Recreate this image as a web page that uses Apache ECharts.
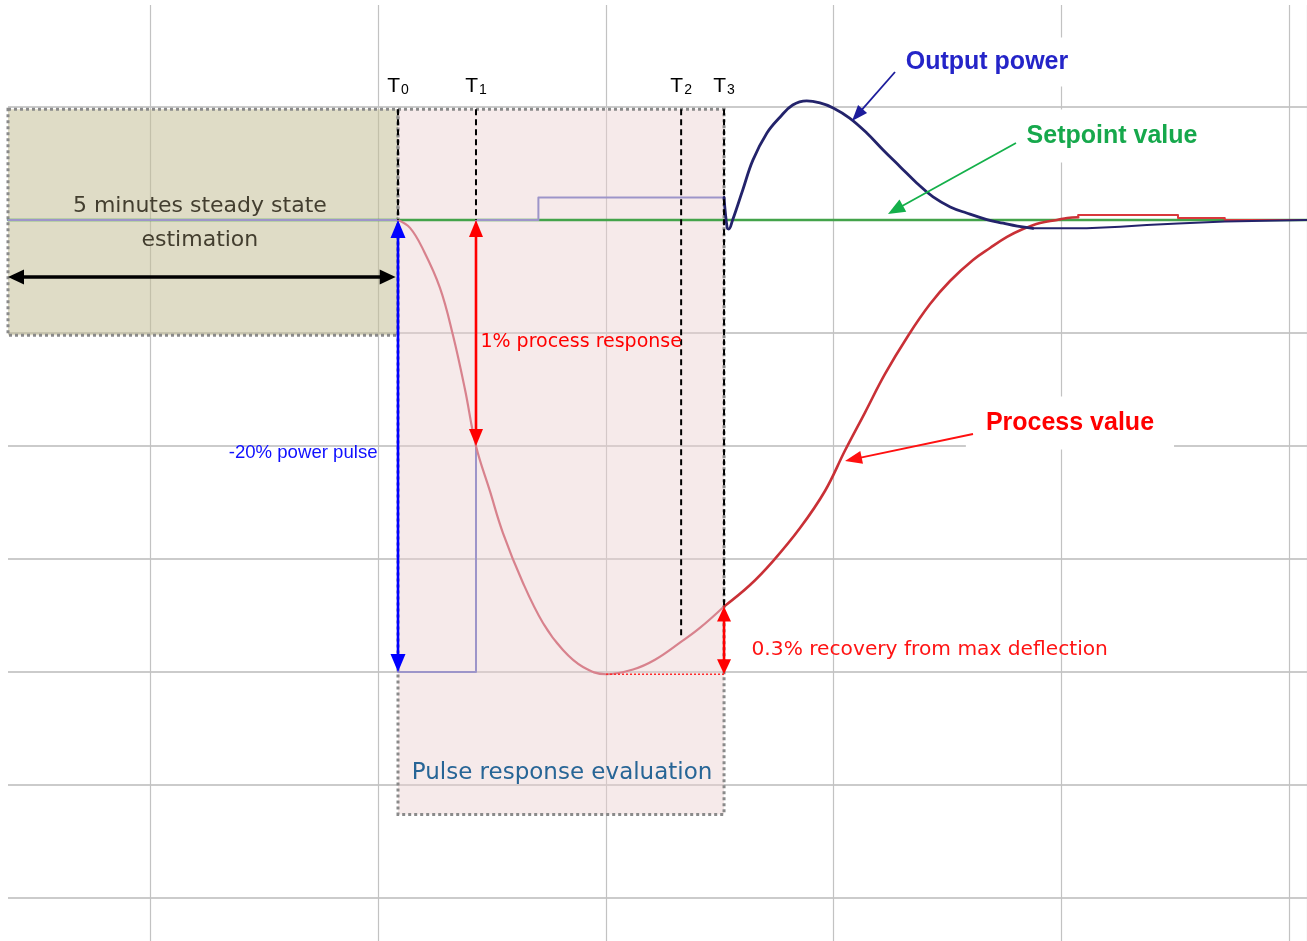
<!DOCTYPE html>
<html>
<head>
<meta charset="utf-8">
<title>Pulse response evaluation</title>
<script src="https://cdn.jsdelivr.net/npm/echarts@6/dist/echarts.min.js"></script>
<style>
  html, body { margin: 0; padding: 0; background: #ffffff; }
  #chart { width: 1307px; height: 941px; }
</style>
</head>
<body>
<div id="chart"></div>
<script>
// Time axis: minutes relative to the start of the power pulse (T0).
// Process axis: deviation of the process value from setpoint, in %.
// Power axis: change of output power, in %.

// Event markers T0..T3
const markTimes = [0, 1.0, 3.63, 4.18];
const markSubs = ['0', '1', '2', '3'];
const markEnds = [0, 0, -1.84, -1.71];
const windowTop = 0.49;

// Shaded windows: [tStart, top, tEnd, bottom]
const steadyWindow = [-5, windowTop, 0, -0.51];
const pulseWindow = [0, windowTop, 4.18, -2.63];

// Setpoint (process %)
const setpoint = [[-5, 0], [11.654, 0]];

// Output power (power %)
const powerPulse = [[-5, 0], [0, 0], [0, -20], [1.0, -20], [1.0, 0], [1.8, 0], [1.8, 1], [4.18, 1]];
const powerRecovery = [
  [4.18, 1], [4.22, -0.35], [4.24, -0.4], [4.29, 0], [4.42, 1.33], [4.55, 2.65], [4.73, 3.85],
  [4.90, 4.56], [5.06, 5.09], [5.24, 5.27], [5.41, 5.18], [5.58, 4.96], [5.79, 4.51], [6.01, 3.85],
  [6.22, 3.10], [6.44, 2.35], [6.65, 1.64], [6.86, 1.02], [7.08, 0.58], [7.29, 0.31], [7.55, 0.02],
  [7.76, -0.14], [7.94, -0.27], [8.14, -0.37]
];
const powerSettle = [
  [8.14, -0.37], [8.83, -0.37], [8.83, -0.30], [9.26, -0.30], [9.26, -0.22], [9.60, -0.22],
  [9.60, -0.15], [10.0, -0.15], [10.0, -0.07], [10.6, -0.07], [10.6, 0], [11.654, 0]
];

// Process value (process %)
const processFall = [
  [0, 0], [0.154, -0.035], [0.321, -0.13], [0.538, -0.3], [0.705, -0.51], [0.859, -0.75],
  [1.0, -1.0], [1.179, -1.2], [1.346, -1.385], [1.603, -1.606], [1.859, -1.783], [2.115, -1.903],
  [2.372, -1.978], [2.667, -2.01], [3.013, -1.989], [3.295, -1.946], [3.628, -1.867], [3.87, -1.805],
  [4.18, -1.71]
];
const processRise = [
  [4.18, -1.71], [4.513, -1.615], [4.808, -1.509], [5.154, -1.363], [5.474, -1.199], [5.731, -1.02],
  [5.987, -0.852], [6.244, -0.681], [6.538, -0.513], [6.821, -0.372], [7.077, -0.27], [7.372, -0.177],
  [7.59, -0.124], [7.808, -0.075], [8.013, -0.04], [8.231, -0.013], [8.449, 0], [8.58, 0.009],
  [8.72, 0.012]
];
const processSettle = [
  [8.72, 0.012], [8.72, 0.022], [10.0, 0.022], [10.0, 0.009], [10.6, 0.009], [10.6, 0], [11.654, 0]
];

// Measurement arrows: [t1, v1, t2, v2]
const pulseArrow = [[0, 0, 0, -20]];                    // power axis
const responseArrow = [[1.0, 0, 1.0, -1.0]];
const recoveryArrow = [[4.18, -2.01, 4.18, -1.71]];
const steadyArrow = [[-5, -0.252, -0.03, -0.252]];
const deflectionLevel = [[2.667, -2.01], [4.18, -2.01]];

// Legend pointers: [from t, from v, to t, to v]
const outputPointer = [[6.372, 0.655, 5.821, 0.438]];
const setpointPointer = [[7.923, 0.341, 6.282, 0.027]];
const processPointer = [[7.372, -0.947, 5.731, -1.066]];

// Text anchors
const steadyText = { text: '5 minutes steady state\nestimation', at: [-2.54, -0.013] };
const responseText = { text: '1% process response', at: [1.05, -0.54] };
const pulseText = { text: '-20% power pulse', at: [-0.256, -1.031] };
const windowText = { text: 'Pulse response evaluation', at: [2.103, -2.447] };
const recoveryText = { text: '0.3% recovery from max deflection', at: [4.526, -1.903] };
const outputText = { text: 'Output power', at: [7.551, 0.699] };
const setpointText = { text: 'Setpoint value', at: [9.154, 0.372] };
const processText = { text: 'Process value', at: [8.615, -0.898] };
const markLabelLevel = 0.597;

const chart = echarts.init(document.getElementById('chart'));

const hiddenAxis = {
  axisLine: { show: false }, axisTick: { show: false }, axisLabel: { show: false }, splitLine: { show: false }
};

function boxSeries(name, rect, fill) {
  return {
    type: 'custom', name, xAxisIndex: 1, yAxisIndex: 1, z: 1, silent: true,
    data: [rect], encode: { x: [0, 2], y: [1, 3] },
    renderItem(params, api) {
      const a = api.coord([api.value(0), api.value(1)]);
      const b = api.coord([api.value(2), api.value(3)]);
      return {
        type: 'rect',
        shape: { x: Math.min(a[0], b[0]), y: Math.min(a[1], b[1]), width: Math.abs(b[0] - a[0]), height: Math.abs(b[1] - a[1]) },
        style: { fill, stroke: '#8a8a8a', lineWidth: 3, lineDash: [3, 3] }
      };
    }
  };
}

function arrowSeries(name, segs, o) {
  return {
    type: 'custom', name, xAxisIndex: 1, yAxisIndex: o.yAxis == null ? 1 : o.yAxis, z: o.z || 7, silent: true,
    data: segs, encode: { x: [0, 2], y: [1, 3] },
    renderItem(params, api) {
      const p = api.coord([api.value(0), api.value(1)]);
      const q = api.coord([api.value(2), api.value(3)]);
      const dx = q[0] - p[0], dy = q[1] - p[1];
      const len = Math.hypot(dx, dy) || 1;
      const ux = dx / len, uy = dy / len;
      const L = o.head[0], W = o.head[1];
      const head = (tip, vx, vy) => {
        const bx = tip[0] - vx * L, by = tip[1] - vy * L;
        return {
          type: 'polygon',
          shape: { points: [tip, [bx - vy * W / 2, by + vx * W / 2], [bx + vy * W / 2, by - vx * W / 2]] },
          style: { fill: o.color }
        };
      };
      const children = [];
      let s = p;
      if (o.both) {
        s = [p[0] + ux * L * 0.8, p[1] + uy * L * 0.8];
        children.push(head(p, -ux, -uy));
      }
      const e = [q[0] - ux * L * 0.8, q[1] - uy * L * 0.8];
      children.push(head(q, ux, uy));
      children.unshift({
        type: 'line', shape: { x1: s[0], y1: s[1], x2: e[0], y2: e[1] },
        style: { stroke: o.color, lineWidth: o.width }
      });
      return { type: 'group', children };
    }
  };
}

function curve(name, data, color, width, yAxis, z, smooth) {
  return {
    type: 'line', name, data, xAxisIndex: 1, yAxisIndex: yAxis, z,
    symbol: 'none', showSymbol: false, silent: true,
    smooth: smooth ? 0.4 : false,
    lineStyle: { color, width, cap: 'round', join: 'round' }
  };
}

function textSeries(name, item, label, z) {
  return {
    type: 'scatter', name, xAxisIndex: 1, yAxisIndex: 1, z: z || 8, silent: true,
    symbolSize: 1, itemStyle: { color: 'rgba(0,0,0,0)', opacity: 1 },
    data: [{ value: item.at, name: item.text }],
    label: Object.assign({ show: true, position: 'inside', distance: 0, formatter: p => p.name }, label)
  };
}

const series = [
  boxSeries('steady window', steadyWindow, 'rgba(196,192,152,0.55)'),
  boxSeries('pulse window', pulseWindow, 'rgba(236,208,208,0.45)'),

  curve('Setpoint value', setpoint, '#43a34a', 2.5, 1, 3, false),
  curve('Output power (pulse)', powerPulse, '#9d95c9', 2, 2, 4, false),
  curve('Output power', powerRecovery, '#23236b', 2.8, 2, 5, true),
  curve('Output power (settle)', powerSettle, '#23236b', 2, 2, 5, false),
  curve('Process value (pulse)', processFall, '#d8828d', 2.2, 1, 4, true),
  curve('Process value', processRise, '#c93036', 2.6, 1, 4, true),
  curve('Process value (settle)', processSettle, '#d9383c', 2, 1, 4, false),

  {
    type: 'line', name: 'max deflection', data: deflectionLevel, xAxisIndex: 1, yAxisIndex: 1, z: 6,
    symbol: 'none', silent: true, lineStyle: { color: '#ff2a2a', width: 1.5, type: [2, 2] }
  }
];

markTimes.forEach((t, i) => {
  series.push({
    type: 'line', name: 'T' + markSubs[i], data: [[t, windowTop], [t, markEnds[i]]],
    xAxisIndex: 1, yAxisIndex: 1, z: 6, symbol: 'none', silent: true,
    lineStyle: { color: '#000000', width: 2, type: [6, 4] }
  });
  series.push(textSeries('T' + markSubs[i] + ' label', { text: markSubs[i], at: [t, markLabelLevel] }, {
    formatter: p => '{t|T}{s|' + p.name + '}',
    rich: {
      t: { fontFamily: 'Liberation Sans', fontSize: 21, color: '#000000', lineHeight: 24, verticalAlign: 'bottom' },
      s: { fontFamily: 'Liberation Sans', fontSize: 14, color: '#000000', lineHeight: 14, verticalAlign: 'bottom', padding: [0, 0, 0, 1] }
    }
  }));
});

series.push(
  arrowSeries('pulse arrow', pulseArrow, { color: '#0000ff', width: 2.6, head: [18, 15], both: true, yAxis: 2 }),
  arrowSeries('response arrow', responseArrow, { color: '#ff0000', width: 2.6, head: [17, 14], both: true }),
  arrowSeries('recovery arrow', recoveryArrow, { color: '#ff0000', width: 2.6, head: [15, 14], both: true }),
  arrowSeries('steady arrow', steadyArrow, { color: '#000000', width: 3.6, head: [16, 15], both: true }),
  arrowSeries('output pointer', outputPointer, { color: '#1c1c9c', width: 1.8, head: [16, 12] }),
  arrowSeries('setpoint pointer', setpointPointer, { color: '#14b04a', width: 1.8, head: [17, 14] }),
  arrowSeries('process pointer', processPointer, { color: '#ff1010', width: 2, head: [17, 13] })
);

series.push(
  textSeries('steady text', steadyText, {
    fontFamily: 'DejaVu Sans', fontSize: 22, color: '#433e2f', lineHeight: 34, align: 'center'
  }),
  textSeries('response text', responseText, {
    position: 'right', fontFamily: 'DejaVu Sans', fontSize: 19, color: '#ff0000'
  }),
  textSeries('pulse text', pulseText, {
    position: 'left', fontFamily: 'Liberation Sans', fontSize: 18.6, color: '#1010ff'
  }),
  textSeries('window text', windowText, {
    fontFamily: 'DejaVu Sans', fontSize: 23, color: '#276596'
  }),
  textSeries('recovery text', recoveryText, {
    position: 'right', fontFamily: 'DejaVu Sans', fontSize: 20.2, color: '#ff1414'
  }),
  textSeries('output text', outputText, {
    fontFamily: 'Liberation Sans', fontWeight: 'bold', fontSize: 25, color: '#2424c8',
    backgroundColor: '#ffffff', padding: [12, 8]
  }, 5),
  textSeries('setpoint text', setpointText, {
    fontFamily: 'Liberation Sans', fontWeight: 'bold', fontSize: 25, color: '#16a84c',
    backgroundColor: '#ffffff', padding: [14, 16]
  }, 5),
  textSeries('process text', processText, {
    fontFamily: 'Liberation Sans', fontWeight: 'bold', fontSize: 25, color: '#ff0000',
    backgroundColor: '#ffffff', padding: [14, 20]
  }, 5)
);

chart.setOption({
  animation: false,
  backgroundColor: '#ffffff',
  tooltip: { show: false },
  grid: [
    { left: -77, width: 1384, top: 5, bottom: 0, containLabel: false, outerBoundsMode: 'none' },
    { left: 8, right: 0, top: -6, height: 1017, containLabel: false, outerBoundsMode: 'none' }
  ],
  xAxis: [
    Object.assign({}, hiddenAxis, {
      gridIndex: 0, type: 'value', min: 0, max: 6.08, interval: 1,
      splitLine: { show: true, lineStyle: { color: '#c2c2c2', width: 1.2 } }
    }),
    Object.assign({}, hiddenAxis, { gridIndex: 1, type: 'value', min: -5, max: 11.654 })
  ],
  yAxis: [
    Object.assign({}, hiddenAxis, { gridIndex: 0, type: 'value', min: 0, max: 1 }),
    Object.assign({}, hiddenAxis, {
      gridIndex: 1, type: 'value', min: -3.5, max: 1, interval: 0.5,
      splitLine: { show: true, lineStyle: { color: '#cbcbcb', width: 2 } }
    }),
    Object.assign({}, hiddenAxis, { gridIndex: 1, type: 'value', min: -35, max: 10, position: 'right' })
  ],
  series
});
</script>
</body>
</html>
